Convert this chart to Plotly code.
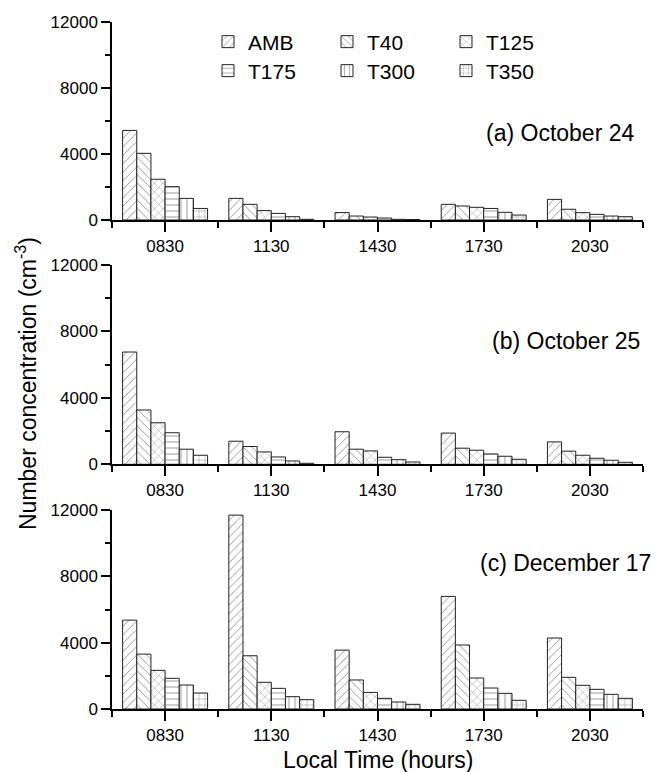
import plotly.graph_objects as go
from plotly.subplots import make_subplots

times = ["0830", "1130", "1430", "1730", "2030"]
series = ["AMB", "T40", "T125", "T175", "T300", "T350"]

# panel (a) October 24
oct24 = {
    "AMB":  [5430, 1310, 450, 950, 1250],
    "T40":  [4040, 950, 240, 850, 650],
    "T125": [2470, 570, 180, 770, 445],
    "T175": [2020, 400, 120, 700, 340],
    "T300": [1310, 200, 40, 465, 240],
    "T350": [700, 40, 30, 300, 200],
}
# panel (b) October 25
oct25 = {
    "AMB":  [6760, 1390, 1960, 1880, 1350],
    "T40":  [3270, 1070, 910, 970, 790],
    "T125": [2500, 745, 806, 848, 545],
    "T175": [1900, 442, 424, 624, 364],
    "T300": [909, 200, 279, 485, 242],
    "T350": [545, 60, 139, 303, 121],
}
# panel (c) December 17
dec17 = {
    "AMB":  [5360, 11690, 3550, 6790, 4280],
    "T40":  [3310, 3210, 1750, 3860, 1910],
    "T125": [2330, 1610, 1000, 1870, 1430],
    "T175": [1850, 1245, 643, 1265, 1185],
    "T300": [1446, 743, 422, 944, 884],
    "T350": [964, 562, 281, 522, 643],
}
panel_labels = ["(a) October 24", "(b) October 25", "(c) December 17"]
panel_label_y = [5270, 7430, 8800]
yticks = [0, 4000, 8000, 12000]

patterns = {"AMB": "/", "T40": "\\", "T125": "x", "T175": "-", "T300": "|", "T350": "+"}
xpos = list(range(1, len(times) + 1))

fig = make_subplots(rows=3, cols=1, shared_xaxes=False, vertical_spacing=0.05)

font_family = "Liberation Sans, Arial, sans-serif"

for r, data in enumerate([oct24, oct25, dec17], start=1):
    for s in series:
        fig.add_trace(go.Bar(
            x=xpos, y=data[s], name=s,
            showlegend=(r == 1),
            legend="legend" if series.index(s) < 3 else "legend2",
            marker=dict(color="white",
                        line=dict(color="#222", width=1),
                        pattern=dict(shape=patterns[s], fgcolor="#222", bgcolor="white",
                                     size=6, solidity=0.15, fillmode="overlay")),
        ), row=r, col=1)

# domains (pixel-matched)
H = 687.0
doms = [((709 - 220) / H, 1.0), ((709 - 464.3) / H, (709 - 265) / H), (0.0, (709 - 510) / H)]
for i, d in enumerate(doms, start=1):
    xa = "xaxis" if i == 1 else f"xaxis{i}"
    ya = "yaxis" if i == 1 else f"yaxis{i}"
    fig.layout[ya].update(
        domain=list(d), range=[0, 12000], tickvals=yticks,
        ticktext=[str(v) for v in yticks],
        showline=True, linecolor="black", linewidth=1.5,
        ticks="outside", ticklen=9, tickwidth=1.5, tickcolor="black",
        minor=dict(tickvals=[2000, 6000, 10000], ticks="outside", ticklen=5,
                   tickwidth=1.5, tickcolor="black"),
        showgrid=False, zeroline=False,
        tickfont=dict(size=17, color="black", family=font_family),
    )
    fig.layout[xa].update(
        range=[0.5, 5.5], tickvals=xpos, ticktext=times,
        showline=True, linecolor="black", linewidth=1.5,
        ticks="outside", ticklen=10, tickwidth=1.5, tickcolor="black",
        minor=dict(tickvals=[0.5, 1.5, 2.5, 3.5, 4.5, 5.5], ticks="outside",
                   ticklen=6, tickwidth=1.5, tickcolor="black"),
        showgrid=False, zeroline=False,
        tickfont=dict(size=17, color="black", family=font_family),
    )

ann_x = [(636 - 112) / 531, (642 - 112) / 531, (653 - 112) / 531]
for i, (lab, yv) in enumerate(zip(panel_labels, panel_label_y), start=1):
    fig.add_annotation(text=lab, xref="paper", yref=("y" if i == 1 else f"y{i}"),
                       x=ann_x[i - 1], y=yv, xanchor="right", yanchor="middle",
                       showarrow=False,
                       font=dict(size=23, color="black", family=font_family))

fig.add_annotation(text="Number concentration (cm<sup>-3</sup>)", xref="paper", yref="paper",
                   x=(26 - 112) / 531, y=(709 - 384) / H, textangle=-90,
                   xanchor="center", yanchor="middle", showarrow=False,
                   font=dict(size=23, color="black", family=font_family))
fig.add_annotation(text="Local Time (hours)", xref="paper", yref="paper",
                   x=0.5, y=(709 - 760) / H, xanchor="center", yanchor="middle",
                   showarrow=False, font=dict(size=23, color="black", family=font_family))

leg_common = dict(orientation="h", xanchor="left", yanchor="middle",
                  entrywidth=74, entrywidthmode="pixels",
                  bgcolor="rgba(0,0,0,0)", itemwidth=30,
                  font=dict(size=21, color="black", family=font_family),
                  tracegroupgap=0)
fig.update_layout(
    legend=dict(x=(208 - 112) / 531, y=(709 - 42) / H, **leg_common),
    legend2=dict(x=(208 - 112) / 531, y=(709 - 71) / H, **leg_common),
    barmode="group", bargap=0.2, bargroupgap=0,
    width=656, height=772,
    margin=dict(l=112, r=13, t=22, b=63),
    paper_bgcolor="white", plot_bgcolor="white",
    font=dict(family=font_family, color="black"),
)

fig.write_html("out.html",
               config={"displayModeBar": False},
               post_script="document.body.style.margin='0';document.body.style.padding='0';")
